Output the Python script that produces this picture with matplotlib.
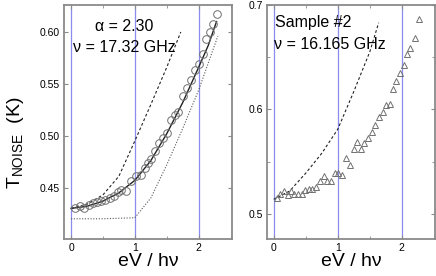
import matplotlib.pyplot as plt
from matplotlib.ticker import MultipleLocator

plt.rcParams['font.family'] = ['Liberation Sans', 'DejaVu Sans']
plt.rcParams['mathtext.fontset'] = 'custom'
plt.rcParams['mathtext.rm'] = 'Liberation Sans'

# left panel: alpha = 2.30, 17.32 GHz
x_circ = [0.06, 0.14, 0.21, 0.28, 0.34, 0.41, 0.47, 0.54, 0.61, 0.67, 0.73, 0.79,
          0.86, 0.94, 1.02, 1.09, 1.16, 1.20, 1.26, 1.31, 1.38, 1.44, 1.50, 1.57,
          1.63, 1.68, 1.76, 1.81, 1.88, 1.95, 2.01, 2.06, 2.12, 2.17, 2.22, 2.29]
y_circ = [0.430, 0.432, 0.430, 0.433, 0.435, 0.436, 0.437, 0.438, 0.440, 0.442, 0.446, 0.448,
          0.447, 0.456, 0.461, 0.462, 0.469, 0.474, 0.478, 0.485, 0.493, 0.498, 0.503, 0.515,
          0.520, 0.523, 0.538, 0.546, 0.554, 0.563, 0.569, 0.579, 0.593, 0.600, 0.608, 0.617]

x_fit = [0.0, 0.25, 0.5, 0.75, 1.0, 1.25, 1.5, 1.75, 2.0, 2.15, 2.28]
y_fit = [0.430, 0.432, 0.437, 0.445, 0.457, 0.476, 0.502, 0.532, 0.566, 0.587, 0.610]

x_dash_l = [0.0, 0.25, 0.5, 0.75, 1.0, 1.25, 1.5, 1.72]
y_dash_l = [0.430, 0.434, 0.443, 0.461, 0.495, 0.530, 0.566, 0.600]

x_dot = [0.0, 0.5, 1.0, 1.25, 1.5, 1.75, 2.0, 2.3]
y_dot = [0.420, 0.420, 0.421, 0.440, 0.472, 0.507, 0.544, 0.596]

# right panel: sample #2, 16.165 GHz
x_tri = [0.05, 0.105, 0.167, 0.22, 0.27, 0.32, 0.375, 0.44, 0.495, 0.547, 0.60, 0.667,
         0.73, 0.78, 0.83, 0.90, 0.953, 1.005, 1.06, 1.136, 1.19, 1.25, 1.30, 1.365,
         1.417, 1.48, 1.53, 1.584, 1.64, 1.70, 1.756, 1.81, 1.866, 1.917, 1.98, 2.03,
         2.08, 2.136, 2.20, 2.27]
y_tri = [0.515, 0.519, 0.522, 0.518, 0.522, 0.519, 0.519, 0.519, 0.523, 0.524, 0.524, 0.526,
         0.532, 0.536, 0.532, 0.532, 0.539, 0.539, 0.537, 0.554, 0.547, 0.562, 0.569, 0.562,
         0.568, 0.573, 0.578, 0.585, 0.593, 0.598, 0.604, 0.605, 0.620, 0.627, 0.635, 0.643,
         0.653, 0.659, 0.668, 0.687]

x_dash_r = [0.0, 0.25, 0.5, 0.75, 1.0, 1.25, 1.5, 1.64]
y_dash_r = [0.514, 0.522, 0.539, 0.558, 0.581, 0.617, 0.655, 0.683]

spine_col = '#8a8a8a'
vline_col = '#8c8cf0'
mark_col = '#707070'

fig = plt.figure(figsize=(4.36, 2.76), dpi=100)
ax1 = fig.add_axes([0.1468, 0.134, 0.385, 0.848])
ax2 = fig.add_axes([0.6117, 0.134, 0.386, 0.848])

for ax in (ax1, ax2):
    for v in [0, 1, 2]:
        ax.axvline(v, color=vline_col, lw=0.9, zorder=1)
    for s in ax.spines.values():
        s.set_color(spine_col)
        s.set_linewidth(1.3)
    ax.tick_params(which='both', direction='in', top=True, right=True,
                   colors=spine_col, labelcolor='black', labelsize=7.5, pad=3)
    ax.tick_params(which='major', length=3)
    ax.tick_params(which='minor', length=2)
    ax.xaxis.set_major_locator(MultipleLocator(1))
    ax.xaxis.set_minor_locator(MultipleLocator(0.5))
    ax.set_xlim(-0.11, 2.52)
    ax.set_xlabel('eV / h\u03bd', fontsize=14, labelpad=0)

ax1.plot(x_dot, y_dot, ls=(0, (1, 1.5)), color='#555555', lw=0.8, zorder=2)
ax1.plot(x_dash_l, y_dash_l, ls=(0, (2.5, 2)), color='#222222', lw=0.8, zorder=2)
ax1.plot(x_fit, y_fit, color='#222222', lw=1.0, zorder=3)
ax1.plot(x_circ, y_circ, 'o', ms=5.5, mfc='none', mec=mark_col, mew=0.7, zorder=4)
ax1.set_ylim(0.4005, 0.626)
ax1.yaxis.set_major_locator(MultipleLocator(0.05))
ax1.yaxis.set_major_formatter(plt.FormatStrFormatter('%.2f'))
ax1.text(0.84, 0.605, '\u03b1 = 2.30', ha='center', va='center', fontsize=11.5)
ax1.text(0.84, 0.585, '\u03bd = 17.32 GHz', ha='center', va='center', fontsize=11.5)

ax2.plot(x_dash_r, y_dash_r, ls=(0, (2.5, 2)), color='#222222', lw=0.8, zorder=2)
ax2.plot(x_tri, y_tri, '^', ms=4.8, mfc='none', mec=mark_col, mew=0.7, zorder=4)
ax2.set_ylim(0.476, 0.7)
ax2.yaxis.set_major_locator(MultipleLocator(0.1))
ax2.yaxis.set_minor_locator(MultipleLocator(0.05))
ax2.yaxis.set_major_formatter(plt.FormatStrFormatter('%.1f'))
ax2.text(0.62, 0.683, 'Sample #2', ha='center', va='center', fontsize=11.5)
ax2.text(0.87, 0.662, '\u03bd = 16.165 GHz', ha='center', va='center', fontsize=11.5)

fig.text(0.035, 1 - 143 / 276, r'T$_{\mathrm{NOISE}}$  (K)', rotation=90,
         ha='center', va='center', fontsize=14)

fig.savefig('out.png', dpi=100)
